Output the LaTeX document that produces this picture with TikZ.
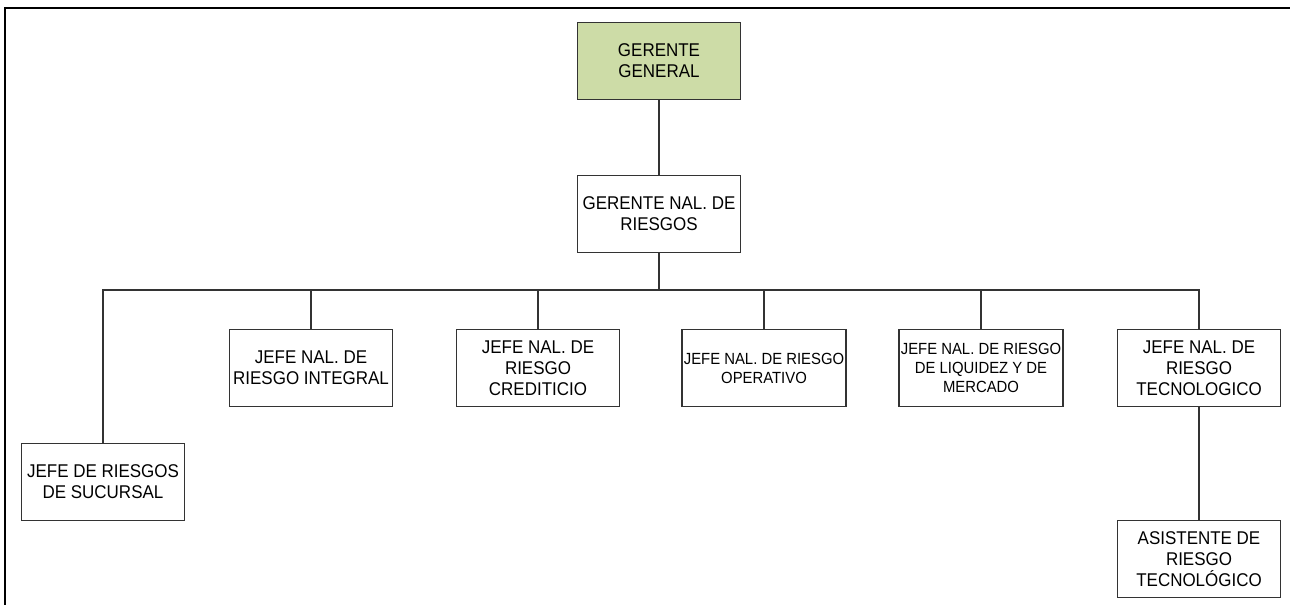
\documentclass[tikz,border=0pt]{standalone}
\usepackage{fontspec}
\setmainfont{Liberation Sans}[FakeStretch=0.92]
\definecolor{verdegg}{RGB}{205,220,167}
\tikzset{
  cargo/.style={draw=black!80, line width=1pt, minimum width=3.26cm, minimum height=1.54cm,
    inner sep=1pt, align=center, font=\fontsize{10.5}{12.1}\selectfont},
  cargochico/.style={cargo, font=\fontsize{9.2}{10.8}\selectfont},
  linea/.style={draw=black!80, line width=0.85pt}
}

\begin{document}
\begin{tikzpicture}[x=0.02cm, y=-0.02cm]
\useasboundingbox (0,0) rectangle (1290,605);
\draw[line width=1.1pt] (1290,8) -- (5,8) -- (5,605);

\node[cargo, fill=verdegg] (gg) at (659,61) {GERENTE\\GENERAL};
\node[cargo] (gnr) at (659,214) {GERENTE NAL. DE\\RIESGOS};

\node[cargo] (suc) at (103,482) {JEFE DE RIESGOS\\DE SUCURSAL};
\node[cargo] (int) at (311,368) {JEFE NAL. DE\\RIESGO INTEGRAL};
\node[cargo] (cre) at (538,368) {JEFE NAL. DE\\RIESGO\\CREDITICIO};
\node[cargochico] (ope) at (764,368) {JEFE NAL. DE RIESGO\\OPERATIVO};
\node[cargochico] (liq) at (981,368) {JEFE NAL. DE RIESGO\\DE LIQUIDEZ Y DE\\MERCADO};
\node[cargo] (tec) at (1199,368) {JEFE NAL. DE\\RIESGO\\TECNOLOGICO};
\node[cargo] (asi) at (1199,559) {ASISTENTE DE\\RIESGO\\TECNOLÓGICO};

\coordinate (bus) at (659,290);
\draw[linea] (gg) -- (gnr);
\draw[linea] (gnr) -- (bus);
\foreach \n in {suc,int,cre,ope,liq,tec}
  \draw[linea] (bus) -| (\n.north);
\draw[linea] (tec) -- (asi);
\end{tikzpicture}
\end{document}
